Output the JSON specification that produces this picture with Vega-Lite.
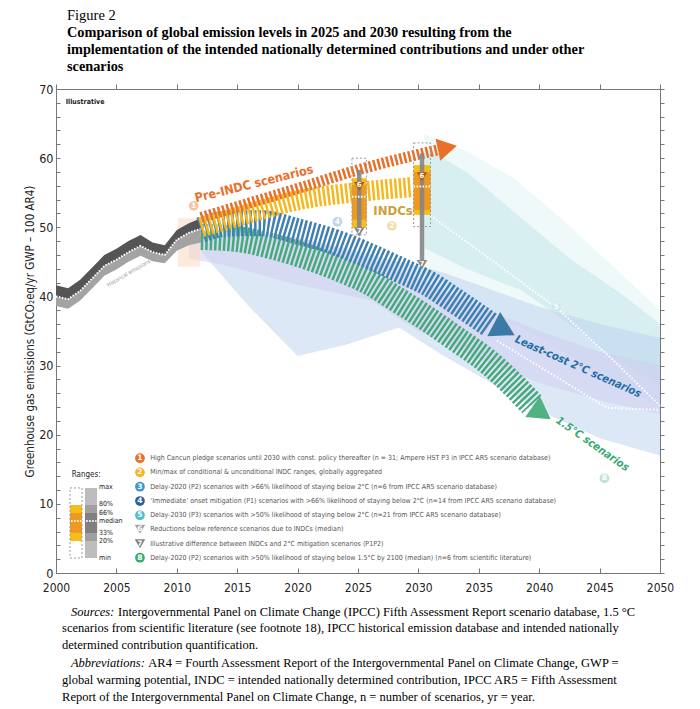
{
  "$schema": "https://vega.github.io/schema/vega-lite/v6.json",
  "width": 604,
  "height": 484,
  "autosize": {"type": "none"},
  "padding": {"left": 56, "top": 89, "right": 40, "bottom": 136},
  "background": "white",
  "title": {
    "text": "Figure 2",
    "subtitle": ["Comparison of global emission levels in 2025 and 2030 resulting from the", "implementation of the intended nationally determined contributions and under other", "scenarios"],
    "anchor": "start",
    "frame": "group",
    "dx": 11,
    "offset": 8,
    "font": "Liberation Serif",
    "fontSize": 14.5,
    "fontWeight": "normal",
    "color": "#000000",
    "subtitleFont": "Liberation Serif",
    "subtitleFontSize": 14.3,
    "subtitleFontWeight": "bold",
    "subtitleColor": "#000000",
    "subtitleLineHeight": 17,
    "subtitlePadding": 2
  },
  "config": {"view": {"stroke": null}, "axis": {"grid": false}},
  "datasets": {
    "hist": [
      {"year": 2000, "v": 40.0, "lo": 38.6, "hi": 41.6},
      {"year": 2001, "v": 39.6, "lo": 38.2, "hi": 41.2},
      {"year": 2002, "v": 40.8, "lo": 39.4, "hi": 42.4},
      {"year": 2003, "v": 42.6, "lo": 41.2, "hi": 44.2},
      {"year": 2004, "v": 44.4, "lo": 43.0, "hi": 46.0},
      {"year": 2005, "v": 45.3, "lo": 43.9, "hi": 46.9},
      {"year": 2006, "v": 46.4, "lo": 45.0, "hi": 48.0},
      {"year": 2007, "v": 47.3, "lo": 45.9, "hi": 48.9},
      {"year": 2008, "v": 46.4, "lo": 45.1, "hi": 47.8},
      {"year": 2009, "v": 46.0, "lo": 44.8, "hi": 47.4},
      {"year": 2010, "v": 48.2, "lo": 46.6, "hi": 49.6},
      {"year": 2011, "v": 49.2, "lo": 47.4, "hi": 50.6},
      {"year": 2012, "v": 49.8, "lo": 47.8, "hi": 51.3}
    ],
    "bands": [
      {"band": "halo", "year": 2030.5, "v": 44, "v2": 63.5},
      {"band": "halo", "year": 2034, "v": 40, "v2": 61},
      {"band": "halo", "year": 2038, "v": 36, "v2": 57},
      {"band": "halo", "year": 2042, "v": 32, "v2": 51},
      {"band": "halo", "year": 2046, "v": 28, "v2": 44.5},
      {"band": "halo", "year": 2050, "v": 24, "v2": 38},
      {"band": "cyan", "year": 2030.5, "v": 47, "v2": 61.5},
      {"band": "cyan", "year": 2034, "v": 44, "v2": 58},
      {"band": "cyan", "year": 2038.4, "v": 41, "v2": 51.5},
      {"band": "cyan", "year": 2042.5, "v": 36, "v2": 45.5},
      {"band": "cyan", "year": 2046.7, "v": 30.5, "v2": 40.5},
      {"band": "cyan", "year": 2050, "v": 27, "v2": 36},
      {"band": "lblue", "year": 2012, "v": 46.5, "v2": 49.5},
      {"band": "lblue", "year": 2016, "v": 38.5, "v2": 49.5},
      {"band": "lblue", "year": 2020, "v": 31.4, "v2": 48.5},
      {"band": "lblue", "year": 2024, "v": 33, "v2": 47},
      {"band": "lblue", "year": 2028.4, "v": 35.5, "v2": 45},
      {"band": "lblue", "year": 2032, "v": 31.5, "v2": 43.5},
      {"band": "lblue", "year": 2036, "v": 27.5, "v2": 41},
      {"band": "lblue", "year": 2040, "v": 23.5, "v2": 38.5},
      {"band": "lblue", "year": 2045, "v": 19.5, "v2": 36},
      {"band": "lblue", "year": 2050, "v": 17, "v2": 34},
      {"band": "lav", "year": 2011, "v": 45.5, "v2": 48},
      {"band": "lav", "year": 2014, "v": 44.5, "v2": 49},
      {"band": "lav", "year": 2020, "v": 41.7, "v2": 48.5},
      {"band": "lav", "year": 2026, "v": 39.5, "v2": 45.5},
      {"band": "lav", "year": 2030, "v": 35, "v2": 42.5},
      {"band": "lav", "year": 2035, "v": 31, "v2": 38.5},
      {"band": "lav", "year": 2040, "v": 27.5, "v2": 35},
      {"band": "lav", "year": 2045, "v": 25, "v2": 32},
      {"band": "lav", "year": 2050, "v": 23, "v2": 30},
      {"band": "peach", "year": 2010.1, "v": 44.3, "v2": 51.3},
      {"band": "peach", "year": 2011.9, "v": 44.3, "v2": 51.3}
    ],
    "dots": [
      {"name": "d4", "year": 2020.5, "v": 52.6},
      {"name": "d4", "year": 2023.3, "v": 50.8},
      {"name": "d4", "year": 2026.5, "v": 48.3},
      {"name": "d5", "year": 2030.3, "v": 52.6},
      {"name": "d5", "year": 2035, "v": 46.6},
      {"name": "d5", "year": 2041.4, "v": 38.4},
      {"name": "d5", "year": 2046, "v": 31},
      {"name": "d5", "year": 2050, "v": 24.2},
      {"name": "dlc", "year": 2036.5, "v": 33.6},
      {"name": "dlc", "year": 2045.6, "v": 23.9},
      {"name": "dlc", "year": 2050, "v": 23.6},
      {"name": "d8", "year": 2028, "v": 34.6},
      {"name": "d8", "year": 2036, "v": 25.6},
      {"name": "d8", "year": 2045.4, "v": 13.7},
      {"name": "d8", "year": 2050, "v": 9.3}
    ],
    "arrows": [
      {"name": "orange", "year": 2012, "v": 51.4},
      {"name": "orange", "year": 2016, "v": 53.5},
      {"name": "orange", "year": 2020, "v": 55.6},
      {"name": "orange", "year": 2025, "v": 58.3},
      {"name": "orange", "year": 2031.6, "v": 61.2},
      {"name": "yellow", "year": 2012, "v": 50.0},
      {"name": "yellow", "year": 2016, "v": 52.0},
      {"name": "yellow", "year": 2020, "v": 53.9},
      {"name": "yellow", "year": 2025, "v": 55.1},
      {"name": "yellow", "year": 2029.5, "v": 55.8},
      {"name": "blue", "year": 2012, "v": 49.6},
      {"name": "blue", "year": 2014, "v": 50.5},
      {"name": "blue", "year": 2017, "v": 50.6},
      {"name": "blue", "year": 2020, "v": 49.4},
      {"name": "blue", "year": 2023, "v": 47.9},
      {"name": "blue", "year": 2026, "v": 45.8},
      {"name": "blue", "year": 2028.5, "v": 43.8},
      {"name": "blue", "year": 2030.7, "v": 42.0},
      {"name": "blue", "year": 2033, "v": 39.4},
      {"name": "blue", "year": 2036.0, "v": 35.8},
      {"name": "green", "year": 2012, "v": 48.6},
      {"name": "green", "year": 2015, "v": 48.3},
      {"name": "green", "year": 2018, "v": 47.2},
      {"name": "green", "year": 2021, "v": 45.6},
      {"name": "green", "year": 2024, "v": 43.6},
      {"name": "green", "year": 2026, "v": 42.0},
      {"name": "green", "year": 2028, "v": 39.8},
      {"name": "green", "year": 2030, "v": 37.6},
      {"name": "green", "year": 2033, "v": 34.0},
      {"name": "green", "year": 2036, "v": 30.2},
      {"name": "green", "year": 2039.4, "v": 24.4}
    ],
    "heads": [
      {"name": "orange", "year": 2032.4, "v": 61.5},
      {"name": "blue", "year": 2037.1, "v": 35.2},
      {"name": "green", "year": 2040.2, "v": 23.15}
    ],
    "indc": [
      {"year": 2024.5, "year2": 2025.7, "xc": 2025.1, "out_lo": 48.9, "out_hi": 60.0, "yel_lo": 49.9, "yel_hi": 57.1, "or_lo": 51.1, "or_hi": 56.1, "med": 54.4, "top": 58.3, "bot": 49.8, "six": 55.9, "seven": 49.3},
      {"year": 2029.6, "year2": 2031.0, "xc": 2030.3, "out_lo": 50.1, "out_hi": 62.2, "yel_lo": 51.8, "yel_hi": 59.0, "or_lo": 52.5, "or_hi": 58.0, "med": 55.9, "top": 60.7, "bot": 45.2, "six": 57.3, "seven": 44.6}
    ],
    "pale": [
      {"n": "1", "year": 2011.4, "v": 53.1},
      {"n": "2", "year": 2027.8, "v": 50.2},
      {"n": "4", "year": 2023.3, "v": 50.8},
      {"n": "5", "year": 2041.4, "v": 38.4},
      {"n": "8", "year": 2045.4, "v": 13.7}
    ],
    "legend": [
      {"n": "1", "year": 2006.95, "tx": 2007.8, "v": 16.6, "t": "High Cancun pledge scenarios until 2030 with const. policy thereafter (n = 31; Ampere HST P3 in IPCC AR5 scenario database)"},
      {"n": "2", "year": 2006.95, "tx": 2007.8, "v": 14.56, "t": "Min/max of conditional & unconditional INDC ranges, globally aggregated"},
      {"n": "3", "year": 2006.95, "tx": 2007.8, "v": 12.48, "t": "Delay-2020 (P2) scenarios with >66% likelihood of staying below 2°C (n=6 from IPCC AR5 scenario database)"},
      {"n": "4", "year": 2006.95, "tx": 2007.8, "v": 10.41, "t": "‘Immediate’ onset mitigation (P1) scenarios with >66% likelihood of staying below 2°C (n=14 from IPCC AR5 scenario database)"},
      {"n": "5", "year": 2006.95, "tx": 2007.8, "v": 8.35, "t": "Delay-2030 (P3) scenarios with >50% likelihood of staying below 2°C (n=21 from IPCC AR5 scenario database)"},
      {"n": "6", "year": 2006.95, "tx": 2007.8, "v": 6.32, "t": "Reductions below reference scenarios due to INDCs (median)"},
      {"n": "7", "year": 2006.95, "tx": 2007.8, "v": 4.24, "t": "Illustrative difference between INDCs and 2°C mitigation scenarios (P1P2)"},
      {"n": "8", "year": 2006.95, "tx": 2007.8, "v": 2.21, "t": "Delay-2020 (P2) scenarios with >50% likelihood of staying below 1.5°C by 2100 (median) (n=6 from scientific literature)"}
    ],
    "rng": [
      {"part": "yel", "year": 2001.16, "year2": 2002.15, "v": 4.63, "v2": 9.83},
      {"part": "or", "year": 2001.16, "year2": 2002.15, "v": 5.79, "v2": 8.68},
      {"part": "g1", "year": 2002.4, "year2": 2003.4, "v": 2.17, "v2": 12.3},
      {"part": "g2", "year": 2002.4, "year2": 2003.4, "v": 4.63, "v2": 9.83},
      {"part": "g3", "year": 2002.4, "year2": 2003.4, "v": 5.79, "v2": 8.68}
    ],
    "rngout": [
      {"year": 2001.16, "year2": 2002.15, "v": 2.17, "v2": 12.3}
    ],
    "rngmed": [
      {"year": 2001.25, "year2": 2002.1, "v": 7.52},
      {"year": 2002.5, "year2": 2003.35, "v": 7.52}
    ],
    "rlab": [
      {"t": "max", "year": 2003.56, "v": 12.45},
      {"t": "80%", "year": 2003.56, "v": 9.95},
      {"t": "66%", "year": 2003.56, "v": 8.75},
      {"t": "median", "year": 2003.56, "v": 7.52},
      {"t": "33%", "year": 2003.56, "v": 5.79},
      {"t": "20%", "year": 2003.56, "v": 4.6},
      {"t": "min", "year": 2003.56, "v": 2.1}
    ],
    "labels": [
      {"id": "pre", "t": "Pre-INDC scenarios", "year": 2016.4, "v": 56.3},
      {"id": "indc", "t": "INDCs", "year": 2027.9, "v": 52.3},
      {"id": "lc", "t": "Least-cost 2°C scenarios", "year": 2043.2, "v": 29.8},
      {"id": "c15", "t": "1.5°C scenarios", "year": 2044.4, "v": 18.6},
      {"id": "ill", "t": "Illustrative", "year": 2000.8, "v": 68.1},
      {"id": "hist", "t": "Historical emissions", "year": 2006.0, "v": 43.4},
      {"id": "ranges", "t": "Ranges:", "year": 2001.3, "v": 14.17}
    ],
    "foot": [
      {"kind": "lead", "t": "Sources:", "year": 2001.24, "v": -5.6},
      {"kind": "body", "t": "Intergovernmental Panel on Climate Change (IPCC) Fifth Assessment Report scenario database, 1.5 °C", "year": 2005.13, "v": -5.6},
      {"kind": "body", "t": "scenarios from scientific literature (see footnote 18), IPCC historical emission database and intended nationally", "year": 2000.5, "v": -8.0},
      {"kind": "body", "t": "determined contribution quantification.", "year": 2000.5, "v": -10.41},
      {"kind": "lead", "t": "Abbreviations:", "year": 2001.24, "v": -13.06},
      {"kind": "body", "t": "AR4 = Fourth Assessment Report of the Intergovernmental Panel on Climate Change, GWP =", "year": 2007.64, "v": -13.06},
      {"kind": "body", "t": "global warming potential, INDC = intended nationally determined contribution, IPCC AR5 = Fifth Assessment", "year": 2000.5, "v": -15.48},
      {"kind": "body", "t": "Report of the Intergovernmental Panel on Climate Change, n = number of scenarios, yr = year.", "year": 2000.5, "v": -17.89}
    ]
  },
  "layer": [
    {
      "encoding": {
        "x": {
          "field": "year", "type": "quantitative",
          "scale": {"domain": [2000, 2050], "nice": false, "zero": false},
          "axis": {
            "orient": "bottom", "title": null,
            "values": [2000, 2005, 2010, 2015, 2020, 2025, 2030, 2035, 2040, 2045, 2050],
            "format": "d", "tickSize": -5, "labelPadding": 14,
            "labelFont": "DejaVu Sans Condensed",
            "labelFontSize": 12, "labelColor": "#222222",
            "domainColor": "#777777", "tickColor": "#777777", "labelFlush": false
          }
        },
        "y": {
          "field": "v", "type": "quantitative",
          "scale": {"domain": [0, 70], "nice": false, "zero": false},
          "axis": {
            "orient": "left",
            "title": "Greenhouse gas emissions (GtCO₂eq/yr GWP – 100 AR4)",
            "titleFont": "DejaVu Sans Condensed",
            "titleFontSize": 11.5, "titleFontWeight": "normal", "titleColor": "#222222", "titlePadding": 3,
            "values": [0, 2, 4, 6, 8, 10, 12, 14, 16, 18, 20, 22, 24, 26, 28, 30, 32, 34, 36, 38, 40, 42, 44, 46, 48, 50, 52, 54, 56, 58, 60, 62, 64, 66, 68, 70],
            "labelExpr": "datum.value % 10 === 0 ? datum.label : ''",
            "tickSize": -4, "labelPadding": 7,
            "labelFont": "DejaVu Sans Condensed",
            "labelFontSize": 12.5, "labelColor": "#222222",
            "domainColor": "#777777", "tickColor": "#777777"
          }
        }
      },
      "resolve": {"scale": {"color": "independent"}},
      "layer": [
        {
          "data": {"name": "bands"},
          "mark": {"type": "area", "opacity": 0.5},
          "encoding": {
            "y2": {"field": "v2"},
            "color": {"field": "band", "type": "nominal", "legend": null,
              "scale": {"domain": ["halo", "cyan", "lblue", "lav", "peach"], "range": ["#e0f3f4", "#c0e5e8", "#bcd2ef", "#cfcbed", "#fbd6bb"]}}
          }
        },
        {
          "data": {"name": "hist"},
          "mark": {"type": "area", "color": "#a3a3a3"},
          "encoding": {
            "y": {"field": "lo", "type": "quantitative", "scale": {"domain": [0, 70], "nice": false, "zero": false}},
            "y2": {"field": "v"}
          }
        },
        {
          "data": {"name": "hist"},
          "mark": {"type": "area", "color": "#555555"},
          "encoding": {"y2": {"field": "hi"}}
        },
        {
          "data": {"name": "hist"},
          "mark": {"type": "line", "color": "white", "strokeDash": [1.5, 1.5], "strokeWidth": 2}
        },
        {
          "data": {"name": "dots"},
          "mark": {"type": "line", "color": "white", "strokeDash": [1.5, 2], "strokeWidth": 2},
          "encoding": {"detail": {"field": "name"}}
        },
        {
          "data": {"name": "arrows"},
          "transform": [{"filter": "datum.name === 'green'"}],
          "mark": {"type": "line", "color": "#47a97c", "strokeWidth": 26, "strokeDash": [2.5, 2], "strokeCap": "butt", "interpolate": "monotone"}
        },
        {
          "data": {"name": "arrows"},
          "transform": [{"filter": "datum.name === 'blue'"}],
          "mark": {"type": "line", "color": "#3f80b3", "strokeWidth": 26, "strokeDash": [2.5, 2], "strokeCap": "butt", "interpolate": "monotone"}
        },
        {
          "data": {"name": "arrows"},
          "transform": [{"filter": "datum.name === 'yellow'"}],
          "mark": {"type": "line", "color": "#f6b81e", "strokeWidth": 20, "strokeDash": [2.5, 2], "strokeCap": "butt", "interpolate": "monotone"}
        },
        {
          "data": {"name": "arrows"},
          "transform": [{"filter": "datum.name === 'orange'"}],
          "mark": {"type": "line", "color": "#e8702a", "strokeWidth": 11, "strokeDash": [2.5, 2], "strokeCap": "butt", "interpolate": "monotone"}
        },
        {
          "data": {"name": "heads"},
          "transform": [{"filter": "datum.name === 'orange'"}],
          "mark": {"type": "point", "shape": "triangle-right", "filled": true, "opacity": 1, "color": "#e8702a", "size": 500, "angle": -12}
        },
        {
          "data": {"name": "heads"},
          "transform": [{"filter": "datum.name === 'blue'"}],
          "mark": {"type": "point", "shape": "triangle-right", "filled": true, "opacity": 1, "color": "#3b7aa8", "size": 750, "angle": 28}
        },
        {
          "data": {"name": "heads"},
          "transform": [{"filter": "datum.name === 'green'"}],
          "mark": {"type": "point", "shape": "triangle-right", "filled": true, "opacity": 1, "color": "#4fb283", "size": 650, "angle": 35}
        },
        {
          "data": {"name": "indc"},
          "mark": {"type": "rect", "color": "#f8bd1c"},
          "encoding": {
            "x2": {"field": "year2"},
            "y": {"field": "yel_lo", "type": "quantitative", "scale": {"domain": [0, 70], "nice": false, "zero": false}},
            "y2": {"field": "yel_hi"}
          }
        },
        {
          "data": {"name": "indc"},
          "mark": {"type": "rect", "color": "#ef9a1f"},
          "encoding": {
            "x2": {"field": "year2"},
            "y": {"field": "or_lo", "type": "quantitative", "scale": {"domain": [0, 70], "nice": false, "zero": false}},
            "y2": {"field": "or_hi"}
          }
        },
        {
          "data": {"name": "indc"},
          "mark": {"type": "rect", "fill": "transparent", "stroke": "#9a9a9a", "strokeWidth": 1, "strokeDash": [2, 2]},
          "encoding": {
            "x2": {"field": "year2"},
            "y": {"field": "out_lo", "type": "quantitative", "scale": {"domain": [0, 70], "nice": false, "zero": false}},
            "y2": {"field": "out_hi"}
          }
        },
        {
          "data": {"name": "indc"},
          "mark": {"type": "rule", "color": "#858585", "strokeWidth": 4.5, "opacity": 0.9},
          "encoding": {
            "x": {"field": "xc", "type": "quantitative", "scale": {"domain": [2000, 2050], "nice": false, "zero": false}},
            "y": {"field": "top", "type": "quantitative", "scale": {"domain": [0, 70], "nice": false, "zero": false}},
            "y2": {"field": "bot"}
          }
        },
        {
          "data": {"name": "indc"},
          "mark": {"type": "rule", "color": "white", "strokeWidth": 2, "strokeDash": [1.5, 1.5]},
          "encoding": {
            "x2": {"field": "year2"},
            "y": {"field": "med", "type": "quantitative", "scale": {"domain": [0, 70], "nice": false, "zero": false}}
          }
        },
        {
          "data": {"name": "indc"},
          "mark": {"type": "point", "shape": "triangle-down", "filled": true, "opacity": 1, "color": "#a95e12", "size": 110},
          "encoding": {
            "x": {"field": "xc", "type": "quantitative", "scale": {"domain": [2000, 2050], "nice": false, "zero": false}},
            "y": {"field": "six", "type": "quantitative", "scale": {"domain": [0, 70], "nice": false, "zero": false}}
          }
        },
        {
          "data": {"name": "indc"},
          "mark": {"type": "text", "text": "6", "color": "white", "fontSize": 7, "fontWeight": "bold", "font": "DejaVu Sans", "dy": -1},
          "encoding": {
            "x": {"field": "xc", "type": "quantitative", "scale": {"domain": [2000, 2050], "nice": false, "zero": false}},
            "y": {"field": "six", "type": "quantitative", "scale": {"domain": [0, 70], "nice": false, "zero": false}}
          }
        },
        {
          "data": {"name": "indc"},
          "mark": {"type": "point", "shape": "triangle-down", "filled": true, "opacity": 1, "color": "#8a8a8a", "size": 110},
          "encoding": {
            "x": {"field": "xc", "type": "quantitative", "scale": {"domain": [2000, 2050], "nice": false, "zero": false}},
            "y": {"field": "seven", "type": "quantitative", "scale": {"domain": [0, 70], "nice": false, "zero": false}}
          }
        },
        {
          "data": {"name": "indc"},
          "mark": {"type": "text", "text": "7", "color": "white", "fontSize": 7, "fontWeight": "bold", "font": "DejaVu Sans", "dy": -1},
          "encoding": {
            "x": {"field": "xc", "type": "quantitative", "scale": {"domain": [2000, 2050], "nice": false, "zero": false}},
            "y": {"field": "seven", "type": "quantitative", "scale": {"domain": [0, 70], "nice": false, "zero": false}}
          }
        },
        {
          "data": {"name": "pale"},
          "mark": {"type": "point", "shape": "circle", "filled": true, "opacity": 1, "size": 95},
          "encoding": {
            "color": {"field": "n", "type": "nominal", "legend": null,
              "scale": {"domain": ["1", "2", "4", "5", "8"], "range": ["#f5c4a1", "#f2dcb0", "#c5d3e6", "#cce9eb", "#c2e3d0"]}}
          }
        },
        {
          "data": {"name": "pale"},
          "mark": {"type": "text", "color": "white", "fontSize": 7.5, "fontWeight": "bold", "font": "DejaVu Sans", "baseline": "middle"},
          "encoding": {"text": {"field": "n"}}
        },
        {
          "data": {"name": "labels"},
          "transform": [{"filter": "datum.id === 'pre'"}],
          "mark": {"type": "text", "color": "#e8702a", "fontSize": 12.5, "fontWeight": "bold", "font": "DejaVu Sans Condensed", "angle": -14, "baseline": "middle"},
          "encoding": {"text": {"field": "t"}}
        },
        {
          "data": {"name": "labels"},
          "transform": [{"filter": "datum.id === 'indc'"}],
          "mark": {"type": "text", "color": "#c9a23a", "fontSize": 13, "fontWeight": "bold", "font": "DejaVu Sans Condensed", "baseline": "middle"},
          "encoding": {"text": {"field": "t"}}
        },
        {
          "data": {"name": "labels"},
          "transform": [{"filter": "datum.id === 'lc'"}],
          "mark": {"type": "text", "color": "#1d6ea6", "fontSize": 11, "fontWeight": "bold", "fontStyle": "italic", "font": "DejaVu Sans Condensed", "angle": 24, "baseline": "middle"},
          "encoding": {"text": {"field": "t"}}
        },
        {
          "data": {"name": "labels"},
          "transform": [{"filter": "datum.id === 'c15'"}],
          "mark": {"type": "text", "color": "#3aa874", "fontSize": 11, "fontWeight": "bold", "fontStyle": "italic", "font": "DejaVu Sans Condensed", "angle": 35, "baseline": "middle"},
          "encoding": {"text": {"field": "t"}}
        },
        {
          "data": {"name": "labels"},
          "transform": [{"filter": "datum.id === 'ill'"}],
          "mark": {"type": "text", "color": "#222222", "fontSize": 7, "fontWeight": "bold", "font": "DejaVu Sans Condensed", "align": "left", "baseline": "middle"},
          "encoding": {"text": {"field": "t"}}
        },
        {
          "data": {"name": "labels"},
          "transform": [{"filter": "datum.id === 'hist'"}],
          "mark": {"type": "text", "color": "#9a9a9a", "fontSize": 5.5, "font": "DejaVu Sans Condensed", "angle": -30, "baseline": "middle"},
          "encoding": {"text": {"field": "t"}}
        },
        {
          "data": {"name": "labels"},
          "transform": [{"filter": "datum.id === 'ranges'"}],
          "mark": {"type": "text", "color": "#222222", "fontSize": 8, "font": "DejaVu Sans Condensed", "align": "left", "baseline": "middle"},
          "encoding": {"text": {"field": "t"}}
        },
        {
          "data": {"name": "legend"},
          "transform": [{"filter": "datum.n !== '6' && datum.n !== '7'"}],
          "mark": {"type": "point", "shape": "circle", "filled": true, "opacity": 1, "size": 95},
          "encoding": {
            "color": {"field": "n", "type": "nominal", "legend": null,
              "scale": {"domain": ["1", "2", "3", "4", "5", "8"], "range": ["#e8702a", "#f7b51e", "#3a97d4", "#2d5fa3", "#4cbfcf", "#3aab6e"]}}
          }
        },
        {
          "data": {"name": "legend"},
          "transform": [{"filter": "datum.n === '6' || datum.n === '7'"}],
          "mark": {"type": "point", "shape": "triangle-down", "filled": true, "opacity": 1, "size": 110},
          "encoding": {
            "color": {"field": "n", "type": "nominal", "legend": null,
              "scale": {"domain": ["6", "7"], "range": ["#a6a6a6", "#7d7d7d"]}}
          }
        },
        {
          "data": {"name": "legend"},
          "mark": {"type": "text", "color": "white", "fontSize": 7.5, "fontWeight": "bold", "font": "DejaVu Sans", "baseline": "middle"},
          "encoding": {"text": {"field": "n"}}
        },
        {
          "data": {"name": "legend"},
          "mark": {"type": "text", "color": "#555555", "fontSize": 7, "font": "DejaVu Sans Condensed", "align": "left", "baseline": "middle"},
          "encoding": {
            "x": {"field": "tx", "type": "quantitative", "scale": {"domain": [2000, 2050], "nice": false, "zero": false}},
            "text": {"field": "t"}
          }
        },
        {
          "data": {"name": "rng"},
          "mark": {"type": "rect"},
          "encoding": {
            "x2": {"field": "year2"},
            "y2": {"field": "v2"},
            "color": {"field": "part", "type": "nominal", "legend": null,
              "scale": {"domain": ["yel", "or", "g1", "g2", "g3"], "range": ["#f8bd1c", "#ef9a1f", "#bdbdbd", "#a0a0a0", "#808080"]}}
          }
        },
        {
          "data": {"name": "rngout"},
          "mark": {"type": "rect", "fill": "transparent", "stroke": "#9a9a9a", "strokeWidth": 1, "strokeDash": [2, 2]},
          "encoding": {"x2": {"field": "year2"}, "y2": {"field": "v2"}}
        },
        {
          "data": {"name": "rngmed"},
          "mark": {"type": "rule", "color": "white", "strokeWidth": 2, "strokeDash": [1.5, 1.5]},
          "encoding": {"x2": {"field": "year2"}}
        },
        {
          "data": {"name": "rlab"},
          "mark": {"type": "text", "color": "#222222", "fontSize": 7, "font": "DejaVu Sans Condensed", "align": "left", "baseline": "middle"},
          "encoding": {"text": {"field": "t"}}
        },
        {
          "data": {"name": "foot"},
          "transform": [{"filter": "datum.kind === 'lead'"}],
          "mark": {"type": "text", "color": "#000000", "fontSize": 12.5, "fontStyle": "italic", "font": "Liberation Serif", "align": "left", "baseline": "middle"},
          "encoding": {"text": {"field": "t"}}
        },
        {
          "data": {"name": "foot"},
          "transform": [{"filter": "datum.kind === 'body'"}],
          "mark": {"type": "text", "color": "#000000", "fontSize": 12.5, "font": "Liberation Serif", "align": "left", "baseline": "middle"},
          "encoding": {"text": {"field": "t"}}
        }
      ]
    },
    {
      "data": {"values": [{"year": 2000, "v": 0}]},
      "mark": {"type": "point", "opacity": 0},
      "encoding": {
        "x": {
          "field": "year", "type": "quantitative",
          "scale": {"domain": [2000, 2050], "nice": false, "zero": false},
          "axis": {"orient": "top", "title": null, "labels": false,
            "values": [2000, 2005, 2010, 2015, 2020, 2025, 2030, 2035, 2040, 2045, 2050],
            "tickSize": 5, "domainColor": "#777777", "tickColor": "#777777"}
        },
        "y": {
          "field": "v", "type": "quantitative",
          "scale": {"domain": [0, 70], "nice": false, "zero": false},
          "axis": {"orient": "right", "title": null, "labels": false,
            "values": [0, 2, 4, 6, 8, 10, 12, 14, 16, 18, 20, 22, 24, 26, 28, 30, 32, 34, 36, 38, 40, 42, 44, 46, 48, 50, 52, 54, 56, 58, 60, 62, 64, 66, 68, 70],
            "tickSize": 4, "domainColor": "#777777", "tickColor": "#777777"}
        }
      }
    }
  ],
  "resolve": {"axis": {"x": "independent", "y": "independent"}}
}
